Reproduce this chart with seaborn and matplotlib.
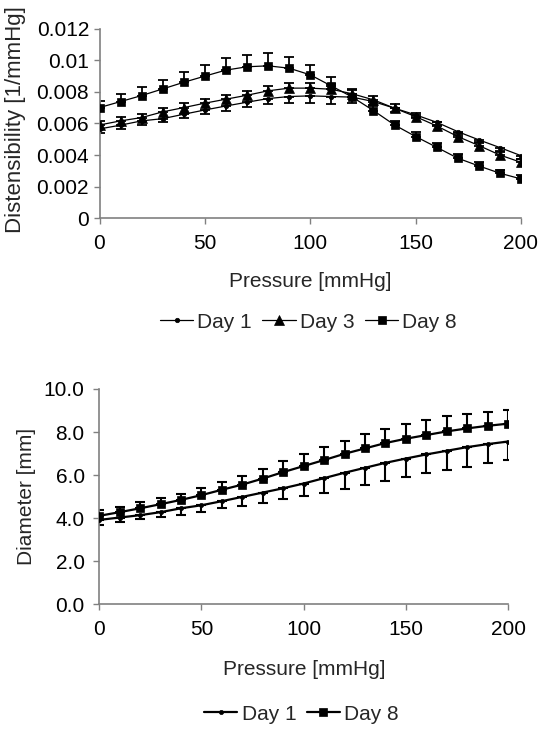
import matplotlib
matplotlib.use("Agg")
import matplotlib.pyplot as plt
import seaborn as sns
import pandas as pd

# ---------------- data ----------------
pressure = [0, 10, 20, 30, 40, 50, 60, 70, 80, 90, 100,
            110, 120, 130, 140, 150, 160, 170, 180, 190, 200]

# Distensibility [1/mmHg]
dist_day1 = [0.00565, 0.00589, 0.00616, 0.0063, 0.00658, 0.00685, 0.0071, 0.00734, 0.00757, 0.0077, 0.00774,
             0.0077, 0.00766, 0.00738, 0.00696, 0.00654, 0.00607, 0.00548, 0.00496, 0.00447, 0.00396]
dist_day3 = [0.0059, 0.00616, 0.00637, 0.00673, 0.007, 0.00728, 0.00753, 0.00778, 0.00806, 0.00823, 0.00823,
             0.00816, 0.00787, 0.00749, 0.00696, 0.00643, 0.00584, 0.00517, 0.0046, 0.004, 0.00354]
dist_day8 = [0.0070, 0.00738, 0.00776, 0.00818, 0.0086, 0.00899, 0.00937, 0.00958, 0.00964, 0.00949, 0.00907,
             0.00837, 0.00766, 0.00681, 0.0059, 0.00517, 0.00449, 0.0038, 0.00331, 0.00285, 0.00249]
dist_day1_err_low = [0.00027, 0.00025, 0.00025, 0.00023, 0.00025, 0.00025, 0.0003, 0.00032, 0.00036, 0.0004, 0.00045,
                     0.00045, 0.0004, 0.00028, 0.00022, 0.0002, 0.0002, 0.0002, 0.0002, 0.0002, 0.0002]
dist_day3_err_up = [0.00025, 0.00024, 0.00025, 0.00026, 0.00027, 0.00027, 0.00028, 0.00028, 0.00029, 0.0003, 0.0003,
                    0.0003, 0.00028, 0.00027, 0.00026, 0.00025, 0.00024, 0.00023, 0.00022, 0.00021, 0.0002]
dist_day8_err_up = [0.00042, 0.00049, 0.00051, 0.00057, 0.00066, 0.00068, 0.00075, 0.00074, 0.0008, 0.0007, 0.00064,
                    0.00057, 0.00045, 0.00038, 0.00028, 0.00026, 0.00024, 0.00026, 0.00024, 0.00021, 0.00024]

# Diameter [mm]
diam_day1 = [3.92, 4.03, 4.14, 4.28, 4.46, 4.6, 4.79, 4.99, 5.19, 5.39, 5.61,
             5.86, 6.11, 6.34, 6.57, 6.77, 6.96, 7.13, 7.3, 7.44, 7.56]
diam_day8 = [4.11, 4.28, 4.46, 4.65, 4.85, 5.07, 5.32, 5.56, 5.84, 6.14, 6.42,
             6.7, 6.99, 7.24, 7.49, 7.69, 7.86, 8.03, 8.17, 8.29, 8.39]
diam_day1_err_low = [0.23, 0.23, 0.2, 0.23, 0.29, 0.29, 0.34, 0.42, 0.47, 0.51, 0.6,
                     0.67, 0.74, 0.82, 0.85, 0.87, 0.88, 0.88, 0.9, 0.87, 0.84]
diam_day8_err_up = [0.25, 0.26, 0.28, 0.28, 0.29, 0.33, 0.37, 0.4, 0.43, 0.5, 0.56,
                    0.59, 0.6, 0.65, 0.67, 0.67, 0.68, 0.7, 0.67, 0.65, 0.65]

x_ticks = [0, 50, 100, 150, 200]
dist_ticks = [0, 0.002, 0.004, 0.006, 0.008, 0.010, 0.012]
dist_tick_labels = ["0", "0.002", "0.004", "0.006", "0.008", "0.01", "0.012"]
diam_ticks = [0, 2, 4, 6, 8, 10]
diam_tick_labels = ["0.0", "2.0", "4.0", "6.0", "8.0", "10.0"]

# ---------------- style ----------------
sns.set_style("ticks")
plt.rcParams["font.family"] = ["Liberation Sans", "DejaVu Sans"]
FS = 15
AX_COL = "#808080"

W, H = 538, 729
fig = plt.figure(figsize=(W / 100, H / 100), dpi=100)

ax1 = fig.add_axes([99.5 / W, 1 - 218.3 / H, (521 - 99.5) / W, (218.3 - 28.5) / H])
ax2 = fig.add_axes([99.3 / W, 1 - 604.3 / H, (508 - 99.3) / W, (604.3 - 389) / H])


def style_axes(ax, ypad, xpad):
    sns.despine(ax=ax)
    for s in ("left", "bottom"):
        ax.spines[s].set_color(AX_COL)
        ax.spines[s].set_linewidth(1.2)
    ax.tick_params(axis="both", colors=AX_COL, labelcolor="black", labelsize=FS,
                   length=4.5, width=1.0, direction="out")
    ax.tick_params(axis="y", pad=ypad)
    ax.tick_params(axis="x", pad=xpad)
    ax.set_xlabel("")
    ax.set_ylabel("")


def draw(ax, series, lw, elw, cap):
    handles = []
    for label, vals, mk, ms, lo, up in series:
        ax.errorbar(pressure, vals, yerr=[lo, up], fmt="none", ecolor="black",
                    elinewidth=elw, capsize=cap, capthick=elw, zorder=2)
        df = pd.DataFrame({"Pressure": pressure, "value": vals})
        sns.lineplot(data=df, x="Pressure", y="value", ax=ax, color="black", lw=lw,
                     marker=mk, markersize=ms, markeredgecolor="black", markerfacecolor="black",
                     markeredgewidth=0.5, label=label, legend=False, zorder=3)
        handles.append(ax.lines[-1])
    return handles


zeros = [0] * len(pressure)

# ---------------- top panel ----------------
top_series = [
    ("Day 1", dist_day1, "o", 3.2, dist_day1_err_low, zeros),
    ("Day 3", dist_day3, "^", 6.5, zeros, dist_day3_err_up),
    ("Day 8", dist_day8, "s", 5.6, zeros, dist_day8_err_up),
]
h1 = draw(ax1, top_series, lw=0.9, elw=1.3, cap=3.6)

ax1.set_xlim(0, 200)
ax1.set_ylim(0, 0.012)
ax1.set_xticks(x_ticks)
ax1.set_yticks(dist_ticks)
ax1.set_yticklabels(dist_tick_labels)
style_axes(ax1, ypad=3, xpad=7)

fig.text(16 / W, 1 - 120 / H, "Distensibility [1/mmHg]", rotation=90,
         ha="center", va="center", fontsize=FS + 1)
fig.text(310.5 / W, 1 - 281 / H, "Pressure [mmHg]", ha="center", va="center", fontsize=FS)

fig.legend(h1, ["Day 1", "Day 3", "Day 8"], loc="center",
           bbox_to_anchor=(308.5 / W, 1 - 322 / H), ncol=3, frameon=False,
           fontsize=FS, handlelength=1.6, handletextpad=0.2, columnspacing=0.5)

# ---------------- bottom panel ----------------
bottom_series = [
    ("Day 1", diam_day1, "o", 3.0, diam_day1_err_low, zeros),
    ("Day 8", diam_day8, "s", 5.8, zeros, diam_day8_err_up),
]
h2 = draw(ax2, bottom_series, lw=1.6, elw=1.5, cap=3.8)

ax2.set_xlim(0, 200)
ax2.set_ylim(0, 10)
ax2.set_xticks(x_ticks)
ax2.set_yticks(diam_ticks)
ax2.set_yticklabels(diam_tick_labels)
style_axes(ax2, ypad=6, xpad=7)

fig.text(26.5 / W, 1 - 496.6 / H, "Diameter [mm]", rotation=90,
         ha="center", va="center", fontsize=FS)
fig.text(304 / W, 1 - 669.5 / H, "Pressure [mmHg]", ha="center", va="center", fontsize=FS)

fig.legend(h2, ["Day 1", "Day 8"], loc="center",
           bbox_to_anchor=(301.5 / W, 1 - 714 / H), ncol=2, frameon=False,
           fontsize=FS, handlelength=1.6, handletextpad=0.2, columnspacing=0.5)

fig.savefig("out.png", dpi=100)
